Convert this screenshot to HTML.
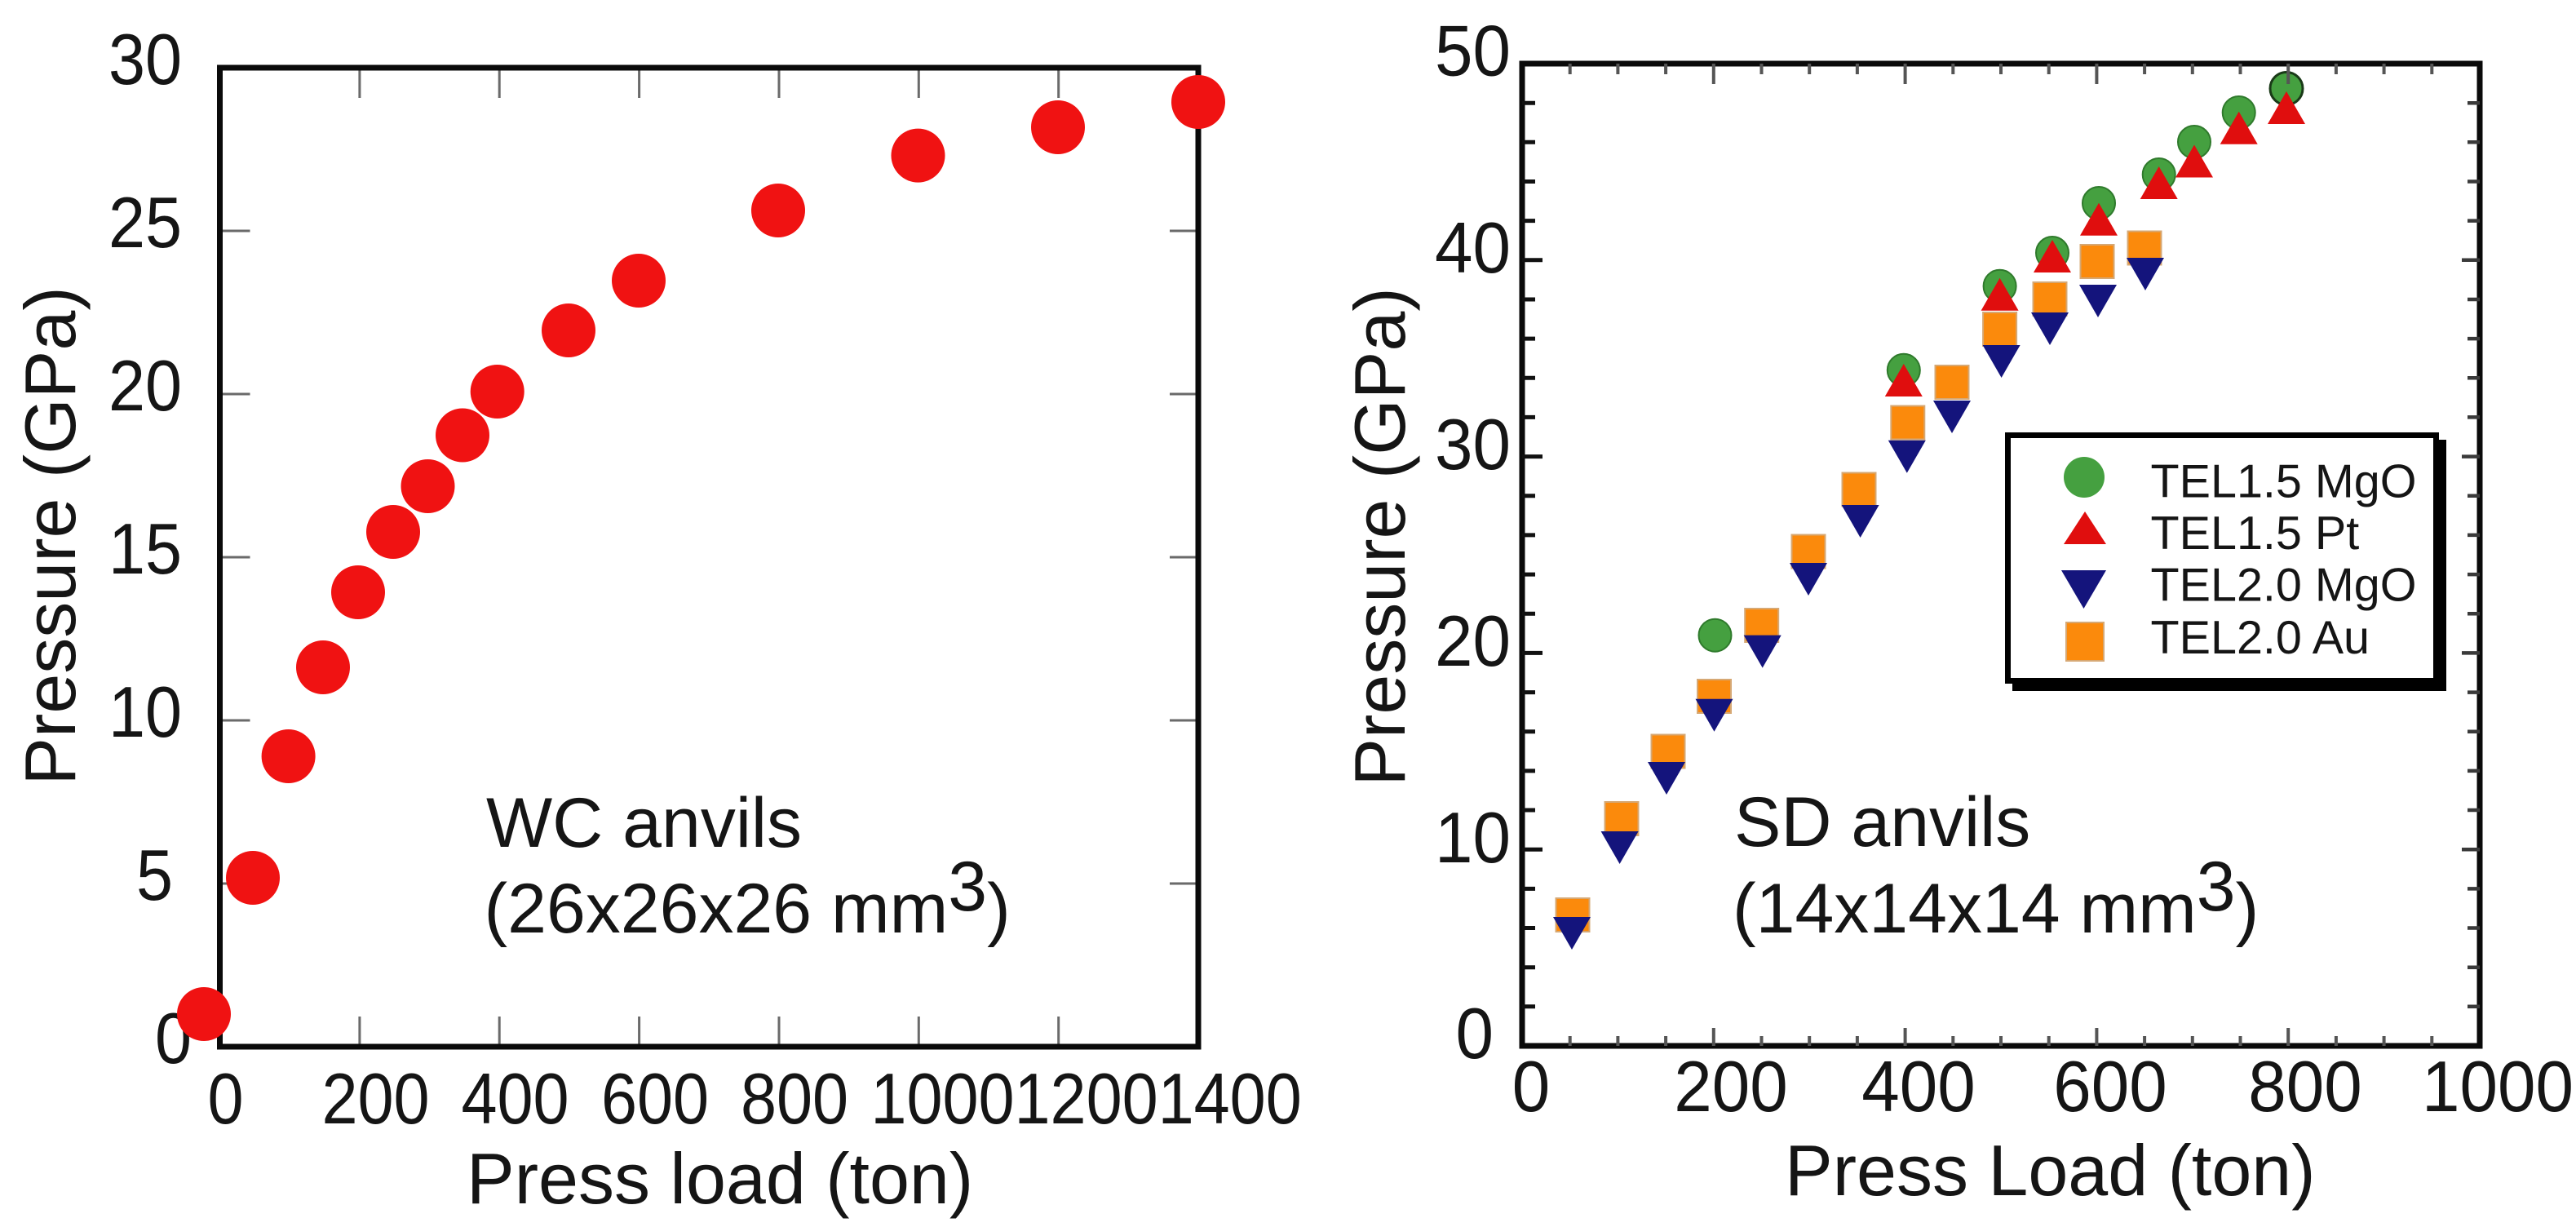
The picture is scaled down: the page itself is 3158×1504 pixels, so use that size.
<!DOCTYPE html>
<html>
<head>
<meta charset="utf-8">
<style>
html,body{margin:0;padding:0;background:#fff;width:3158px;height:1504px;overflow:hidden}
svg{display:block}
</style>
</head>
<body>
<svg width="3158" height="1504" viewBox="0 0 3158 1504" xmlns="http://www.w3.org/2000/svg" font-family="'Liberation Sans', Arial, sans-serif">
<rect x="0" y="0" width="3158" height="1504" fill="#fff"/>

<!-- ================= LEFT PLOT ================= -->
<g fill="#151515" font-size="88">
  <text transform="translate(223,103) scale(0.92,1)" text-anchor="end">30</text>
  <text transform="translate(223,303) scale(0.92,1)" text-anchor="end">25</text>
  <text transform="translate(223,503) scale(0.92,1)" text-anchor="end">20</text>
  <text transform="translate(223,703) scale(0.92,1)" text-anchor="end">15</text>
  <text transform="translate(223,903) scale(0.92,1)" text-anchor="end">10</text>
  <text transform="translate(212,1103) scale(0.92,1)" text-anchor="end">5</text>
  <text transform="translate(235,1303) scale(0.92,1)" text-anchor="end">0</text>

  <text transform="translate(276.5,1377) scale(0.9,1)" text-anchor="middle">0</text>
  <text transform="translate(460.5,1377) scale(0.9,1)" text-anchor="middle">200</text>
  <text transform="translate(631.5,1377) scale(0.9,1)" text-anchor="middle">400</text>
  <text transform="translate(803,1377) scale(0.9,1)" text-anchor="middle">600</text>
  <text transform="translate(974,1377) scale(0.9,1)" text-anchor="middle">800</text>
  <text transform="translate(1067.4,1377) scale(0.9,1)">1000</text>
  <text transform="translate(1243.5,1377) scale(0.9,1)">1200</text>
  <text transform="translate(1419.6,1377) scale(0.9,1)">1400</text>

  <text x="572" y="1475">Press load (ton)</text>
  <text transform="translate(92,657) rotate(-90)" text-anchor="middle">Pressure (GPa)</text>
</g>
<g fill="#151515" font-size="86">
  <text x="596" y="1038">WC anvils</text>
  <text x="593.5" y="1143">(26x26x26 mm<tspan dy="-27">3</tspan><tspan dy="27">)</tspan></text>
</g>

<!-- ticks -->
<path stroke="#6a6a6a" stroke-width="3" fill="none" d="
M440.9 1283v-37 M612.2 1283v-37 M783.6 1283v-37 M955 1283v-37 M1126.3 1283v-37 M1297.7 1283v-37
M440.9 83v37 M612.2 83v37 M783.6 83v37 M955 83v37 M1126.3 83v37 M1297.7 83v37
M269.5 283h37 M269.5 483h37 M269.5 683h37 M269.5 883h37 M269.5 1083h37
M1469 283h-35 M1469 483h-35 M1469 683h-35 M1469 883h-35 M1469 1083h-35"/>
<rect x="269.5" y="83" width="1199.5" height="1200" fill="none" stroke="#0a0a0a" stroke-width="7"/>

<g fill="#f01212">
  <circle cx="250" cy="1243" r="33"/>
  <circle cx="310" cy="1076" r="33"/>
  <circle cx="353.6" cy="927" r="33"/>
  <circle cx="396" cy="818" r="33"/>
  <circle cx="439" cy="726" r="33"/>
  <circle cx="482" cy="652" r="33"/>
  <circle cx="524.5" cy="596" r="33"/>
  <circle cx="567" cy="533.5" r="33"/>
  <circle cx="609.7" cy="480" r="33"/>
  <circle cx="697" cy="405" r="33"/>
  <circle cx="783" cy="344" r="33"/>
  <circle cx="954" cy="258" r="33"/>
  <circle cx="1125.5" cy="190.6" r="33"/>
  <circle cx="1297" cy="156" r="33"/>
  <circle cx="1469" cy="125" r="33"/>
</g>

<!-- ================= RIGHT PLOT ================= -->
<g fill="#151515" font-size="88">
  <text transform="translate(1852,92.5) scale(0.95,1)" text-anchor="end">50</text>
  <text transform="translate(1852,334) scale(0.95,1)" text-anchor="end">40</text>
  <text transform="translate(1852,575) scale(0.95,1)" text-anchor="end">30</text>
  <text transform="translate(1852,816) scale(0.95,1)" text-anchor="end">20</text>
  <text transform="translate(1852,1057) scale(0.95,1)" text-anchor="end">10</text>
  <text transform="translate(1831,1297) scale(0.95,1)" text-anchor="end">0</text>

  <text transform="translate(1877,1362) scale(0.95,1)" text-anchor="middle">0</text>
  <text transform="translate(2122,1362) scale(0.95,1)" text-anchor="middle">200</text>
  <text transform="translate(2352,1362) scale(0.95,1)" text-anchor="middle">400</text>
  <text transform="translate(2587,1362) scale(0.95,1)" text-anchor="middle">600</text>
  <text transform="translate(2826,1362) scale(0.95,1)" text-anchor="middle">800</text>
  <text transform="translate(3062,1362) scale(0.95,1)" text-anchor="middle">1000</text>

  <text x="2188" y="1465">Press Load (ton)</text>
  <text transform="translate(1722,658) rotate(-90)" text-anchor="middle">Pressure (GPa)</text>
</g>
<g fill="#151515" font-size="86">
  <text x="2126" y="1037">SD anvils</text>
  <text x="2124" y="1143">(14x14x14 mm<tspan dy="-27">3</tspan><tspan dy="27">)</tspan></text>
</g>

<rect x="1866" y="78" width="1174" height="1204" fill="none" stroke="#0a0a0a" stroke-width="7"/>

<!-- markers: orange squares -->
<g fill="#fb8a0c" stroke="#d6a874" stroke-width="2">
  <rect x="1907.5" y="1101" width="41" height="41"/>
  <rect x="1967.5" y="983" width="41" height="41"/>
  <rect x="2024.5" y="900.5" width="41" height="41"/>
  <rect x="2081" y="833" width="41" height="41"/>
  <rect x="2139.2" y="746" width="41" height="41"/>
  <rect x="2196.5" y="655.5" width="41" height="41"/>
  <rect x="2258.5" y="579.5" width="41" height="41"/>
  <rect x="2318.3" y="497.5" width="41" height="41"/>
  <rect x="2372.5" y="448" width="41" height="41"/>
  <rect x="2431.1" y="383" width="41" height="41"/>
  <rect x="2492.5" y="346" width="41" height="41"/>
  <rect x="2550.5" y="300" width="41" height="41"/>
  <rect x="2608.5" y="283.5" width="41" height="41"/>
</g>
<!-- navy inverted triangles -->
<g fill="#14147c">
  <polygon points="1904,1124 1950,1124 1927,1164"/>
  <polygon points="1962.6,1019 2008.6,1019 1985.6,1059"/>
  <polygon points="2020,934 2066,934 2043,974"/>
  <polygon points="2078.5,856.7 2124.5,856.7 2101.5,896.7"/>
  <polygon points="2137.7,778.6 2183.7,778.6 2160.7,818.6"/>
  <polygon points="2194,690 2240,690 2217,730"/>
  <polygon points="2257.6,619 2303.6,619 2280.6,659"/>
  <polygon points="2314.8,539.7 2360.8,539.7 2337.8,579.7"/>
  <polygon points="2370,491 2416,491 2393,531"/>
  <polygon points="2430.6,423 2476.6,423 2453.6,463"/>
  <polygon points="2490,383 2536,383 2513,423"/>
  <polygon points="2549,349 2595,349 2572,389"/>
  <polygon points="2607,316 2653,316 2630,356"/>
</g>
<!-- green circles -->
<g fill="#45a040" stroke="#2f7a2c" stroke-width="2">
  <circle cx="2102.5" cy="778.7" r="20"/>
  <circle cx="2333.8" cy="453.7" r="20"/>
  <circle cx="2451.6" cy="350.7" r="20"/>
  <circle cx="2516" cy="310" r="20"/>
  <circle cx="2573" cy="249" r="20"/>
  <circle cx="2646.7" cy="214" r="20"/>
  <circle cx="2690" cy="174" r="20"/>
  <circle cx="2744.7" cy="138" r="20"/>
  <circle cx="2803" cy="108.5" r="20" stroke="#1a3a18" stroke-width="3"/>
</g>
<!-- red triangles -->
<g fill="#e00e0e">
  <polygon points="2333.8,446 2310.8,486 2356.8,486"/>
  <polygon points="2451.6,340.7 2428.6,380.7 2474.6,380.7"/>
  <polygon points="2516,294 2493,334 2539,334"/>
  <polygon points="2573,248.7 2550,288.7 2596,288.7"/>
  <polygon points="2646.7,204 2623.7,244 2669.7,244"/>
  <polygon points="2690,177.5 2667,217.5 2713,217.5"/>
  <polygon points="2744.7,136.7 2721.7,176.7 2767.7,176.7"/>
  <polygon points="2803,112 2780,152 2826,152"/>
</g>

<!-- right plot ticks -->
<path stroke="#111" stroke-width="5" fill="none" d="
M1866 126.2h16 M1866 174.3h16 M1866 222.5h16 M1866 270.6h16 M1866 318.8h25 M1866 367h16 M1866 415.1h16 M1866 463.3h16 M1866 511.4h16 M1866 559.6h25 M1866 607.8h16 M1866 655.9h16 M1866 704.1h16 M1866 752.2h16 M1866 800.4h25 M1866 848.6h16 M1866 896.7h16 M1866 944.9h16 M1866 993h16 M1866 1041.2h25 M1866 1089.4h16 M1866 1137.5h16 M1866 1185.7h16 M1866 1233.8h16"/>
<path stroke="#3a3a3a" stroke-width="4.5" fill="none" d="
M3040 126.2h-15 M3040 174.3h-15 M3040 222.5h-15 M3040 270.6h-15 M3040 318.8h-22 M3040 367h-15 M3040 415.1h-15 M3040 463.3h-15 M3040 511.4h-15 M3040 559.6h-22 M3040 607.8h-15 M3040 655.9h-15 M3040 704.1h-15 M3040 752.2h-15 M3040 800.4h-22 M3040 848.6h-15 M3040 896.7h-15 M3040 944.9h-15 M3040 993h-15 M3040 1041.2h-22 M3040 1089.4h-15 M3040 1137.5h-15 M3040 1185.7h-15 M3040 1233.8h-15"/>
<path stroke="#555" stroke-width="4" fill="none" d="
M1924.7 1282v-12 M1983.4 1282v-12 M2042.1 1282v-12 M2100.8 1282v-22 M2159.5 1282v-12 M2218.2 1282v-12 M2276.9 1282v-12 M2335.6 1282v-22 M2394.3 1282v-12 M2453 1282v-12 M2511.7 1282v-12 M2570.4 1282v-22 M2629.1 1282v-12 M2687.8 1282v-12 M2746.5 1282v-12 M2805.2 1282v-22 M2863.9 1282v-12 M2922.6 1282v-12 M2981.3 1282v-12
M1924.7 78v13 M1983.4 78v13 M2042.1 78v13 M2100.8 78v25 M2159.5 78v13 M2218.2 78v13 M2276.9 78v13 M2335.6 78v25 M2394.3 78v13 M2453 78v13 M2511.7 78v13 M2570.4 78v25 M2629.1 78v13 M2687.8 78v13 M2746.5 78v13 M2805.2 78v25 M2863.9 78v13 M2922.6 78v13 M2981.3 78v13"/>

<!-- legend -->
<rect x="2467" y="539" width="532" height="308" fill="#000"/>
<rect x="2461.5" y="533.5" width="525" height="301" fill="#fff" stroke="#000" stroke-width="7"/>
<circle cx="2555" cy="585" r="25" fill="#45a040"/>
<polygon points="2556,627 2530,667 2582,667" fill="#e00e0e"/>
<polygon points="2527,699 2582,699 2554.5,746" fill="#14147c"/>
<rect x="2533" y="763" width="46" height="47" fill="#fb8a0c" stroke="#d6a874" stroke-width="2"/>
<g fill="#151515" font-size="57.5">
  <text x="2636.5" y="609.5">TEL1.5 MgO</text>
  <text x="2636.5" y="673">TEL1.5 Pt</text>
  <text x="2636.5" y="736.5">TEL2.0 MgO</text>
  <text x="2636.5" y="801">TEL2.0 Au</text>
</g>
</svg>
</body>
</html>
